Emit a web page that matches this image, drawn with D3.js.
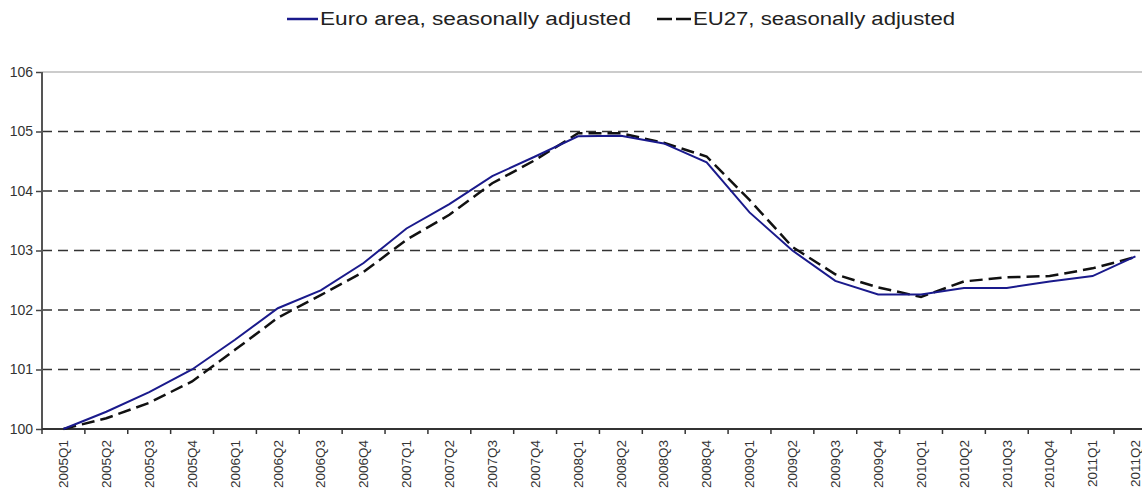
<!DOCTYPE html>
<html>
<head>
<meta charset="utf-8">
<script src="https://cdn.jsdelivr.net/npm/d3@7"></script>
<style>
  body { margin: 0; background: #fff; }
  svg { display: block; font-family: "Liberation Sans", Arial, sans-serif; }
</style>
</head>
<body>
<svg id="chart"></svg>
<script>
var vWidth = 1142;
var vHeight = 488;

// quarters on the x axis
var quarters = ['2005Q1','2005Q2','2005Q3','2005Q4','2006Q1','2006Q2','2006Q3','2006Q4',
  '2007Q1','2007Q2','2007Q3','2007Q4','2008Q1','2008Q2','2008Q3','2008Q4',
  '2009Q1','2009Q2','2009Q3','2009Q4','2010Q1','2010Q2','2010Q3','2010Q4',
  '2011Q1','2011Q2'];

// index values
var euroArea = [100.0, 100.29, 100.62, 101.0, 101.5, 102.03, 102.33, 102.79,
  103.37, 103.78, 104.25, 104.58, 104.92, 104.93, 104.80, 104.48,
  103.64, 103.0, 102.49, 102.26, 102.26, 102.37, 102.37, 102.48,
  102.57, 102.9];
var eu27 = [100.0, 100.18, 100.44, 100.8, 101.33, 101.87, 102.25, 102.64,
  103.18, 103.6, 104.13, 104.52, 104.97, 104.97, 104.81, 104.58,
  103.85, 103.06, 102.6, 102.38, 102.22, 102.48, 102.55, 102.57,
  102.7, 102.89];

var yTicks = [100, 101, 102, 103, 104, 105, 106];
var legendNames = ['Euro area, seasonally adjusted', 'EU27, seasonally adjusted'];

var plotLeft = 42, plotTop = 72, plotBottom = 429;
var step = 42.88;

var svg = d3.select('#chart')
    .attr('width', vWidth)
    .attr('height', vHeight);

var x = d3.scaleBand()
    .domain(quarters)
    .range([plotLeft, plotLeft + step * quarters.length]);

var y = d3.scaleLinear()
    .domain([100, 106])
    .range([plotBottom, plotTop]);

// gridlines (dashed) for the inner values, solid grey at the top
svg.append('g')
  .selectAll('line')
  .data(yTicks.filter(function (d) { return d > 100 && d < 106; }))
  .enter().append('line')
    .attr('x1', plotLeft).attr('x2', vWidth)
    .attr('y1', function (d) { return y(d); })
    .attr('y2', function (d) { return y(d); })
    .style('stroke', '#333')
    .style('stroke-width', 1.5)
    .style('stroke-dasharray', '10,6');

svg.append('line')
    .attr('x1', plotLeft).attr('x2', vWidth)
    .attr('y1', y(106)).attr('y2', y(106))
    .style('stroke', '#999')
    .style('stroke-width', 1.2);

// y axis
var yAxis = svg.append('g')
    .attr('transform', 'translate(' + plotLeft + ',0)')
    .call(d3.axisLeft(y).tickValues(yTicks).tickSize(6).tickSizeOuter(0).tickFormat(d3.format('d')));
yAxis.select('.domain').remove();
yAxis.selectAll('.tick line').style('stroke', '#444').style('stroke-width', 1.5);
yAxis.selectAll('.tick text')
    .attr('x', -9)
    .style('font-size', '14px')
    .style('fill', '#333');

svg.append('line')
    .attr('x1', plotLeft).attr('x2', plotLeft)
    .attr('y1', plotTop).attr('y2', plotBottom)
    .style('stroke', '#555')
    .style('stroke-width', 2);

// x axis: labels at band centres, ticks at band edges
var xAxis = svg.append('g')
    .attr('transform', 'translate(0,' + plotBottom + ')')
    .call(d3.axisBottom(x).tickSize(0).tickSizeOuter(0));
xAxis.select('.domain').remove();
xAxis.selectAll('.tick text')
    .attr('transform', 'rotate(-90)')
    .attr('x', -11)
    .attr('y', 0)
    .attr('dy', '0.35em')
    .style('text-anchor', 'end')
    .style('font-size', '13.5px')
    .style('fill', '#333');

svg.append('g')
  .selectAll('line')
  .data(quarters.concat(['end']))
  .enter().append('line')
    .attr('x1', function (d, i) { return plotLeft + i * x.step(); })
    .attr('x2', function (d, i) { return plotLeft + i * x.step(); })
    .attr('y1', plotBottom).attr('y2', plotBottom + 5)
    .style('stroke', '#333')
    .style('stroke-width', 1.5);

svg.append('line')
    .attr('x1', plotLeft).attr('x2', vWidth)
    .attr('y1', plotBottom).attr('y2', plotBottom)
    .style('stroke', '#333')
    .style('stroke-width', 2);

// the two series
var line = d3.line()
    .x(function (d, i) { return x(quarters[i]) + x.bandwidth() / 2; })
    .y(function (d) { return y(d); });

svg.append('path')
    .datum(eu27)
    .attr('d', line)
    .style('fill', 'none')
    .style('stroke', '#111')
    .style('stroke-width', 2.5)
    .style('stroke-dasharray', '13,6');

svg.append('path')
    .datum(euroArea)
    .attr('d', line)
    .style('fill', 'none')
    .style('stroke', '#1a1a8c')
    .style('stroke-width', 2);

// legend
var legend = svg.append('g');
legend.append('line')
    .attr('x1', 287).attr('x2', 318).attr('y1', 19).attr('y2', 19)
    .style('stroke', '#1a1a8c').style('stroke-width', 2.5);
legend.append('text')
    .attr('x', 320).attr('y', 25)
    .attr('textLength', 311).attr('lengthAdjust', 'spacingAndGlyphs')
    .style('font-size', '18px').style('fill', '#222')
    .text(legendNames[0]);
legend.append('line')
    .attr('x1', 657).attr('x2', 691).attr('y1', 19).attr('y2', 19)
    .style('stroke', '#111').style('stroke-width', 2.5)
    .style('stroke-dasharray', '15,4');
legend.append('text')
    .attr('x', 693).attr('y', 25)
    .attr('textLength', 262).attr('lengthAdjust', 'spacingAndGlyphs')
    .style('font-size', '18px').style('fill', '#222')
    .text(legendNames[1]);
</script>
</body>
</html>
